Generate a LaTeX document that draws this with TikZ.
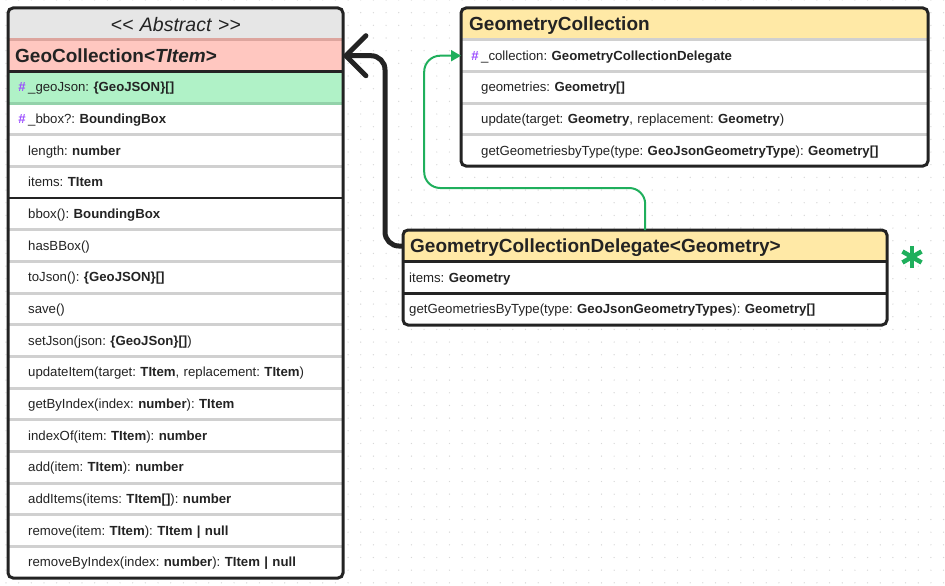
\documentclass[tikz,border=0pt]{standalone}
\usepackage{fontspec}
\setmainfont{Liberation Sans}
\usetikzlibrary{arrows.meta}
\definecolor{ink}{HTML}{232323}
\definecolor{hdrgray}{HTML}{E6E6E6}
\definecolor{pinkc}{HTML}{FFC7C0}
\definecolor{pinkdark}{HTML}{DDA59E}
\definecolor{mintc}{HTML}{B0F2C7}
\definecolor{mintdark}{HTML}{93D2AA}
\definecolor{yellowc}{HTML}{FFE9A6}
\definecolor{sepgray}{HTML}{D0D0D0}
\definecolor{hashc}{HTML}{9B4DFF}
\definecolor{linkgreen}{HTML}{1FAF5C}
\definecolor{dotc}{HTML}{D8D8D8}
\newcommand\rowh{31.67}
\newcommand\hashmark{\llap{\textcolor{hashc}{\textbf{\#}}\hspace{2.6pt}}}

\begin{document}
\frenchspacing
\begin{tikzpicture}[x=1pt, y=-1pt,
	rowbox/.style={anchor=north west, inner ysep=0pt, minimum height=\rowh pt, text height=10.8pt, text depth=1.8pt, align=left, text=ink, font=\fontsize{13.2}{15}\selectfont},
	leftrow/.style={rowbox, text width=295pt, inner xsep=20pt},
	rightrow/.style={rowbox, text width=427pt, inner xsep=20pt},
	delrow/.style={rowbox, text width=472pt, inner xsep=6pt},
	titlefont/.style={font=\fontsize{19}{22}\selectfont\bfseries, text height=15.6pt, text depth=1.2pt},
	sepline/.style={sepgray, line width=3pt},
	darkline/.style={ink, line width=2.5pt},
	boxline/.style={ink, line width=3pt, rounded corners=5pt}]
	\useasboundingbox (0,0) rectangle (945,586);
	% dotted canvas
	\foreach \i in {0,...,74} {
		\foreach \j in {0,...,46} {
			\fill[dotc] (6+12.67*\i, 12.67*\j) circle (0.7pt);
		}
	}

	% abstract GeoCollection
	\begin{scope}
		\clip[rounded corners=5pt] (8,8) rectangle (343,578);
		\node[leftrow, titlefont, fill=hdrgray, align=center, inner xsep=0pt, text width=335pt, font=\fontsize{19.5}{22}\selectfont\itshape] (abstract) at (8,8) {<{}< Abstract >{}>};
		\node[leftrow, titlefont, fill=pinkc, inner xsep=7pt, text width=321pt] (geocoll) at (8,8+\rowh) {GeoCollection<\textit{TItem}>};
		\node[leftrow, fill=mintc] (geojson) at (8,8+2*\rowh) {\hashmark\_geoJson: \textbf{\{GeoJSON\}[]}};
		\node[leftrow, fill=white] (bbox) at (8,8+3*\rowh) {\hashmark\_bbox?: \textbf{BoundingBox}};
		\foreach \nm/\txt [count=\k from 4] in {
			length/{length: \textbf{number}},
			items/{items: \textbf{TItem}},
			bboxfn/{bbox(): \textbf{BoundingBox}},
			hasbbox/{hasBBox()},
			tojson/{toJson(): \textbf{\{GeoJSON\}[]}},
			save/{save()},
			setjson/{setJson(json: \textbf{\{GeoJSon\}[]})},
			updateitem/{updateItem(target: \textbf{TItem}, replacement: \textbf{TItem})},
			getbyindex/{getByIndex(index: \textbf{number}): \textbf{TItem}},
			indexof/{indexOf(item: \textbf{TItem}): \textbf{number}},
			add/{add(item: \textbf{TItem}): \textbf{number}},
			additems/{addItems(items: \textbf{TItem[]}): \textbf{number}},
			remove/{remove(item: \textbf{TItem}): \textbf{TItem | null}},
			removebyindex/{removeByIndex(index: \textbf{number}): \textbf{TItem | null}}}
			\node[leftrow, fill=white] (\nm) at (8,8+\k*\rowh) {\txt};
		\draw[sepline, pinkdark] (8,8+\rowh) -- (343,8+\rowh);
		\draw[sepline, mintdark] (8,8+3*\rowh) -- (343,8+3*\rowh);
		\foreach \k in {4,5,7,8,...,17}
			\draw[sepline] (8,8+\k*\rowh) -- (343,8+\k*\rowh);
		\draw[darkline] (8,8+2*\rowh) -- (343,8+2*\rowh);
		\draw[darkline] (8,8+6*\rowh) -- (343,8+6*\rowh);
	\end{scope}
	\draw[boxline] (8,8) rectangle (343,578);

	% GeometryCollection
	\begin{scope}
		\clip[rounded corners=5pt] (461,8) rectangle (928,166);
		\node[rightrow, titlefont, fill=yellowc, inner xsep=8pt, text width=451pt, text height=14.6pt] (gctitle) at (461,8) {GeometryCollection};
		\node[rightrow, fill=white] (collection) at (461,8+\rowh) {\hashmark\_collection: \textbf{GeometryCollectionDelegate}};
		\node[rightrow, fill=white] (geometries) at (461,8+2*\rowh) {geometries: \textbf{Geometry[]}};
		\node[rightrow, fill=white] (update) at (461,8+3*\rowh) {update(target: \textbf{Geometry}, replacement: \textbf{Geometry})};
		\node[rightrow, fill=white] (getgeom) at (461,8+4*\rowh) {getGeometriesbyType(type: \textbf{GeoJsonGeometryType}): \textbf{Geometry[]}};
		\foreach \k in {1,...,4}
			\draw[sepline] (461,8+\k*\rowh) -- (928,8+\k*\rowh);
	\end{scope}
	\draw[boxline] (461,8) rectangle (928,166);

	% GeometryCollectionDelegate
	\begin{scope}
		\clip[rounded corners=5pt] (403,230) rectangle (887,325);
		\node[delrow, titlefont, fill=yellowc, inner xsep=7pt, text width=470pt, text height=15pt] (deltitle) at (403,230) {GeometryCollectionDelegate<Geometry>};
		\node[delrow, fill=white] (delitems) at (403,230+\rowh) {items: \textbf{Geometry}};
		\node[delrow, fill=white] (delgetgeom) at (403,230+2*\rowh) {getGeometriesByType(type: \textbf{GeoJsonGeometryTypes}): \textbf{Geometry[]}};
		\draw[darkline] (403,230+\rowh) -- (887,230+\rowh);
		\draw[darkline] (403,230+2*\rowh) -- (887,230+2*\rowh);
	\end{scope}
	\draw[boxline] (403,230) rectangle (887,325);

	% connectors
	\draw[ink, line width=5pt, rounded corners=14pt, -{Straight Barb[length=20pt, width=40pt, line join=round, line cap=round]}] (deltitle.west) -- ++(-18,0) |- (geocoll.east);
	\draw[linkgreen, line width=2pt, rounded corners=16pt, -{Triangle[length=10pt, width=11pt]}] (deltitle.north) -- ++(0,-42) -- ++(-221,0) |- (collection.west);

	% marker
	\coordinate (star) at (912,257);
	\foreach \a in {90,30,150}
		\draw[linkgreen, line width=4.5pt] (star) ++(\a:11) -- ++(\a+180:22);
\end{tikzpicture}
\end{document}
